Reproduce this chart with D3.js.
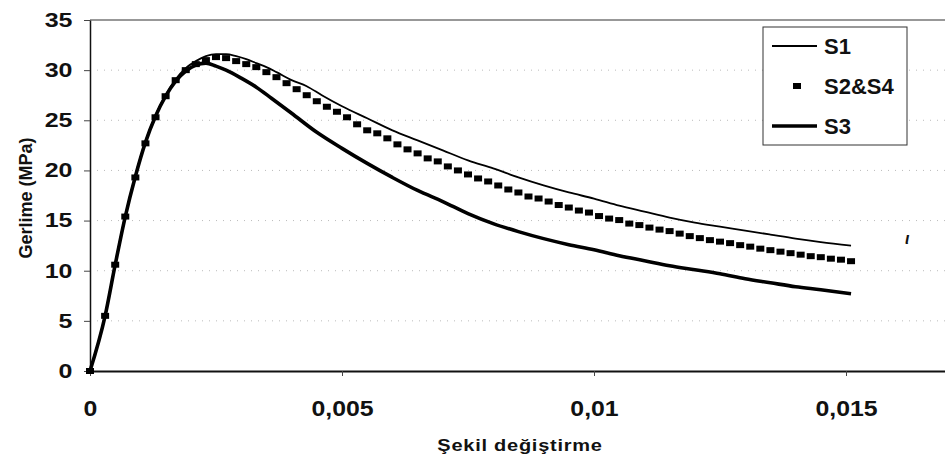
<html>
<head>
<meta charset="utf-8">
<script src="https://d3js.org/d3.v7.min.js"></script>
<style>
body {
	margin: 0;
	background: #fff;
}
text {
	font-family: "Liberation Sans", Arial, sans-serif;
	font-weight: bold;
	fill: #111;
}
</style>
</head>
<body>

<svg id="chart" width="945" height="461"></svg>

<script>

// S1 - thin line
var s1Strain = [0, 0.0003, 0.0005, 0.0007, 0.0009, 0.0011, 0.0013, 0.0015, 0.0017, 0.0019, 0.0021, 0.0023, 0.0025, 0.0027,
	0.0029, 0.0031, 0.0033, 0.0035, 0.0037, 0.0040, 0.0043, 0.0046, 0.0050, 0.0055, 0.0060, 0.0065, 0.0070, 0.0075,
	0.0080, 0.0085, 0.0090, 0.0095, 0.0100, 0.0105, 0.0110, 0.0115, 0.0120, 0.0125, 0.0130, 0.0135, 0.0140, 0.0145, 0.0151]
var s1Stress = [0, 5.6, 10.7, 15.5, 19.5, 22.9, 25.5, 27.5, 29.1, 30.2, 30.9, 31.4, 31.6, 31.6,
	31.4, 31.1, 30.7, 30.3, 29.8, 29.0, 28.4, 27.5, 26.4, 25.2, 24.0, 23.0, 22.0, 21.0,
	20.2, 19.3, 18.5, 17.8, 17.2, 16.5, 15.9, 15.3, 14.8, 14.4, 14.0, 13.6, 13.2, 12.85, 12.5]

// S2&S4 - square markers
var s2Strain = [0, 0.0003, 0.0005, 0.0007, 0.0009, 0.0011, 0.0013, 0.0015, 0.0017, 0.0019,
	0.0021, 0.0023, 0.0025, 0.0027, 0.0029, 0.0031, 0.0033, 0.0035, 0.0037, 0.0039,
	0.0041, 0.0043, 0.0045, 0.0047, 0.0049, 0.0051, 0.0053, 0.0055, 0.0057, 0.0059,
	0.0061, 0.0063, 0.0065, 0.0067, 0.0069, 0.0071, 0.0073, 0.0075, 0.0077, 0.0079,
	0.0081, 0.0083, 0.0085, 0.0087, 0.0089, 0.0091, 0.0093, 0.0095, 0.0097, 0.0099,
	0.0101, 0.0103, 0.0105, 0.0107, 0.0109, 0.0111, 0.0113, 0.0115, 0.0117, 0.0119,
	0.0121, 0.0123, 0.0125, 0.0127, 0.0129, 0.0131, 0.0133, 0.0135, 0.0137, 0.0139,
	0.0141, 0.0143, 0.0145, 0.0147, 0.0149, 0.0151]
var s2Stress = [0, 5.5, 10.6, 15.4, 19.3, 22.7, 25.3, 27.4, 29.0, 30.0,
	30.6, 31.0, 31.3, 31.2, 30.9, 30.6, 30.3, 29.8, 29.3, 28.7,
	28.1, 27.5, 26.9, 26.35, 25.85, 25.3, 24.6, 24.0, 23.7, 23.2,
	22.6, 22.1, 21.7, 21.2, 20.9, 20.4, 20.0, 19.6, 19.2, 18.9,
	18.5, 18.1, 17.8, 17.4, 17.2, 16.9, 16.55, 16.3, 16.0, 15.8,
	15.45, 15.2, 15.05, 14.7, 14.55, 14.3, 14.1, 13.95, 13.7, 13.45,
	13.25, 13.05, 12.9, 12.75, 12.55, 12.4, 12.2, 12.05, 11.9, 11.75,
	11.6, 11.45, 11.35, 11.2, 11.1, 10.95]

// S3 - thick line
var s3Strain = [0, 0.0003, 0.0005, 0.0007, 0.0009, 0.0011, 0.0013, 0.0015, 0.0017, 0.0019, 0.0021, 0.0023, 0.0025, 0.0027,
	0.0030, 0.0033, 0.0036, 0.0040, 0.0045, 0.0050, 0.0055, 0.0060, 0.0065, 0.0070, 0.0075,
	0.0080, 0.0085, 0.0090, 0.0095, 0.0100, 0.0105, 0.0110, 0.0115, 0.0120, 0.0125, 0.0130, 0.0135, 0.0140, 0.0145, 0.0151]
var s3Stress = [0, 5.5, 10.6, 15.4, 19.4, 22.8, 25.4, 27.4, 28.9, 29.9, 30.5, 30.7, 30.4, 30.0,
	29.2, 28.3, 27.2, 25.7, 23.8, 22.2, 20.7, 19.3, 18.0, 16.9, 15.7,
	14.7, 13.9, 13.2, 12.6, 12.1, 11.5, 11.0, 10.5, 10.1, 9.7, 9.2, 8.8, 8.4, 8.1, 7.7]

var yTicks = [0, 5, 10, 15, 20, 25, 30, 35]
var xTicks = [0, 0.005, 0.01, 0.015]
var legendNames = ["S1", "S2&S4", "S3"]

var svg = d3.select("#chart")

var x = d3.scaleLinear()
	.domain([0, 0.017])
	.range([90, 946.8])

var y = d3.scaleLinear()
	.domain([0, 35])
	.range([371, 20])

var fmt = d => d3.format("")(d).replace(".", ",")

// faint dotted grid
svg.append("g")
	.selectAll("line")
	.data(yTicks.filter(d => d > 0 && d < 35))
	.enter().append("line")
		.attr("x1", x(0))
		.attr("x2", 945)
		.attr("y1", d => y(d))
		.attr("y2", d => y(d))
		.attr("stroke", "#bbb")
		.attr("stroke-width", 1)
		.attr("stroke-dasharray", "1,6")

// top border
svg.append("line")
	.attr("x1", x(0)).attr("x2", 945)
	.attr("y1", y(35)).attr("y2", y(35))
	.attr("stroke", "#333")
	.attr("stroke-width", 1.2)

var yAxis = svg.append("g")
	.attr("transform", `translate(${x(0)},0)`)
	.call(d3.axisLeft(y).tickValues(yTicks).tickSize(6).tickPadding(8).tickSizeOuter(0))

yAxis.select(".domain").attr("stroke", "#111").attr("stroke-width", 1.5)
yAxis.selectAll(".tick line").attr("stroke", "#444")
yAxis.selectAll("text")
	.attr("font-size", 20)
	.attr("font-family", null)
	.attr("transform", "scale(1.25,1)")

var xAxis = svg.append("g")
	.attr("transform", `translate(0,${y(0)})`)
	.call(d3.axisBottom(x).tickValues(xTicks).tickFormat(fmt).tickSize(5).tickPadding(24).tickSizeOuter(0))

xAxis.select(".domain").attr("stroke", "#111").attr("stroke-width", 2)
xAxis.selectAll(".tick line").attr("stroke", "#444")
xAxis.selectAll("text")
	.attr("font-size", 22)
	.attr("font-family", null)
	.attr("transform", "scale(1.13,1)")

svg.append("text")
	.attr("transform", "translate(520,451) scale(1.25,1)")
	.attr("text-anchor", "middle")
	.attr("font-size", 16)
	.attr("letter-spacing", 0.6)
	.text("Şekil değiştirme")

svg.append("text")
	.attr("transform", "translate(32,198) rotate(-90)")
	.attr("text-anchor", "middle")
	.attr("font-size", 18)
	.text("Gerlime (MPa)")

var line = d3.line()
	.x(d => x(d[0]))
	.y(d => y(d[1]))
	.curve(d3.curveMonotoneX)

svg.append("path")
	.datum(s3Strain.map((s, i) => [s, s3Stress[i]]))
	.attr("fill", "none")
	.attr("stroke", "#000")
	.attr("stroke-width", 3.6)
	.attr("d", line)

svg.append("path")
	.datum(s1Strain.map((s, i) => [s, s1Stress[i]]))
	.attr("fill", "none")
	.attr("stroke", "#000")
	.attr("stroke-width", 1.8)
	.attr("d", line)

svg.append("g")
	.selectAll("rect")
	.data(s2Strain.map((s, i) => [s, s2Stress[i]]))
	.enter().append("rect")
		.attr("x", d => x(d[0]) - 4)
		.attr("y", d => y(d[1]) - 3)
		.attr("width", 8)
		.attr("height", 6)
		.attr("fill", "#000")

// legend
var legend = svg.append("g").attr("transform", "translate(763,27)")

legend.append("rect")
	.attr("width", 144)
	.attr("height", 118)
	.attr("fill", "#fff")
	.attr("stroke", "#333")
	.attr("stroke-width", 1)

var item = legend.selectAll("g.item")
	.data(legendNames)
	.enter().append("g")
		.attr("class", "item")
		.attr("transform", (d, i) => `translate(0,${19 + i * 40})`)

item.filter((d, i) => i != 1).append("line")
	.attr("x1", 9).attr("x2", 54)
	.attr("stroke", "#000")
	.attr("stroke-width", (d, i) => i == 0 ? 1.8 : 3.6)

item.filter((d, i) => i == 1).append("rect")
	.attr("x", 30).attr("y", -3)
	.attr("width", 8).attr("height", 6)
	.attr("fill", "#000")

item.append("text")
	.attr("x", 61)
	.attr("y", 8)
	.attr("font-size", 22)
	.text(d => d)

// stray mark from the scan
svg.append("text")
	.attr("x", 905)
	.attr("y", 244)
	.attr("font-size", 16)
	.attr("font-style", "italic")
	.text("ι")

</script>

</body>
</html>
